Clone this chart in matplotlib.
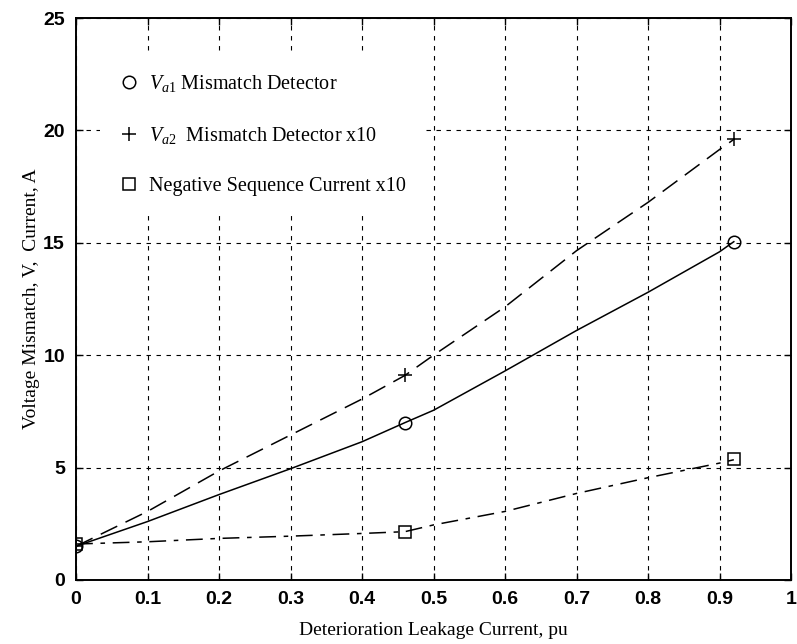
import matplotlib
matplotlib.use("Agg")
import matplotlib.pyplot as plt

# marker points (measured)
xPts = [0.0, 0.46, 0.92]
va1Pts = [1.5, 7.0, 15.05]
va2Pts = [1.5, 9.1, 19.6]
negPts = [1.6, 2.15, 5.4]

# curve
xCurve = [0.0, 0.1, 0.2, 0.3, 0.4, 0.46, 0.5, 0.6, 0.7, 0.8, 0.9, 0.92]
va1Curve = [1.5, 2.6, 3.8, 4.95, 6.15, 7.0, 7.55, 9.3, 11.1, 12.8, 14.6, 15.05]
va2Curve = [1.5, 3.05, 4.85, 6.45, 8.05, 9.1, 10.0, 12.15, 14.65, 16.8, 19.15, 19.6]
negCurve = [1.6, 1.7, 1.85, 1.95, 2.07, 2.15, 2.45, 3.05, 3.85, 4.55, 5.2, 5.35]

xTicks = [0, 0.1, 0.2, 0.3, 0.4, 0.5, 0.6, 0.7, 0.8, 0.9, 1]
xTickLabels = ["0", "0.1", "0.2", "0.3", "0.4", "0.5", "0.6", "0.7", "0.8", "0.9", "1"]
yTicks = [0, 5, 10, 15, 20, 25]

plt.rcParams['mathtext.fontset'] = 'custom'
plt.rcParams['mathtext.it'] = 'Liberation Serif:italic'
plt.rcParams['mathtext.rm'] = 'Liberation Serif'

fig = plt.figure(figsize=(7.97, 6.44), dpi=100)
ax = fig.add_axes([0.0954, 0.0994, 0.8971, 0.8726])

ax.plot(xCurve, va1Curve, color='black', lw=1.1, ls='-')
ax.plot(xCurve, va2Curve, color='black', lw=1.1, ls=(0, (12, 6)))
ax.plot(xCurve, negCurve, color='black', lw=1.1, ls=(0, (11, 5, 3, 5)))

ax.plot(xPts, va1Pts, 'o', mfc='none', mec='black', ms=9, mew=1.1, label=r'$V_{a1}$ Mismatch Detector')
ax.plot(xPts, va2Pts, '+', color='black', ms=10, mew=1.1, label=r'$V_{a2}$  Mismatch Detector x10')
ax.plot(xPts, negPts, 's', mfc='none', mec='black', ms=9, mew=1.1, label='Negative Sequence Current x10')

ax.set_xlim(0, 1)
ax.set_ylim(0, 25)
ax.set_xticks(xTicks)
ax.set_xticklabels(xTickLabels)
ax.set_yticks(yTicks)
ax.grid(True, color='black', ls=(0, (4, 5)), lw=0.8)
ax.tick_params(direction='in', top=True, right=True, length=5, width=1, labelsize=14, pad=8)
for lab in ax.get_xticklabels() + ax.get_yticklabels():
    lab.set_fontfamily('Liberation Sans')
    lab.set_fontweight('bold')
for sp in ax.spines.values():
    sp.set_linewidth(1.4)

ax.set_xlabel('Deterioration Leakage Current, pu', fontfamily='Liberation Serif', fontsize=14, labelpad=10)
ax.set_ylabel('Voltage Mismatch, V,  Current, A', fontfamily='Liberation Serif', fontsize=14, labelpad=2)

leg = ax.legend(loc='upper left', bbox_to_anchor=(0.02, 0.953), frameon=True, fancybox=False,
                facecolor='white', edgecolor='none', framealpha=1, borderpad=0.9, handlelength=1,
                handletextpad=0.5, labelspacing=1.55, prop={'family': 'Liberation Serif', 'size': 14.5})

fig.savefig('out.png', dpi=100)
